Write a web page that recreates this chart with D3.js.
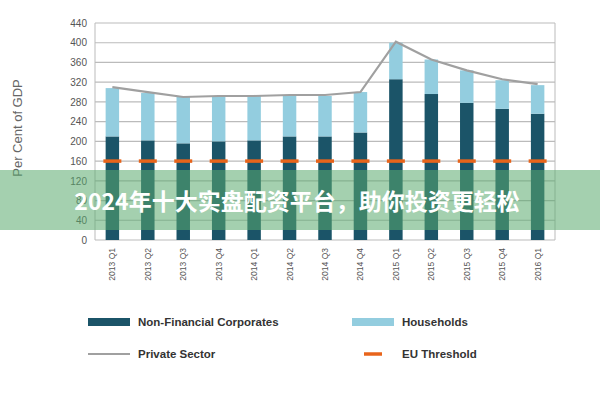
<!DOCTYPE html><html><head><meta charset="utf-8"><script src="https://cdn.jsdelivr.net/npm/d3@7"></script>
<style>body{margin:0;background:#fff}</style></head><body><svg id="c" width="600" height="400"></svg>
<script>
const categories=["2013 Q1","2013 Q2","2013 Q3","2013 Q4","2014 Q1","2014 Q2","2014 Q3","2014 Q4","2015 Q1","2015 Q2","2015 Q3","2015 Q4","2016 Q1"];
const nfc=[210,202,196,200,202,210,210,218,326,296,278,266,256];
const households=[98,96,94,92,90,84,82,82,74,70,66,58,58];
const privateSector=[310,300,290,292,292,294,294,300,402,366,344,326,316];
const euThreshold=160;
const yTicks=[0,40,80,120,160,200,240,280,320,360,400,440];
const svg=d3.select("#c"),F="Liberation Sans, Arial, sans-serif";
const x=d3.scaleBand().domain(categories).range([95,555]).paddingInner(0.62).paddingOuter(0.3);
const y=d3.scaleLinear().domain([0,440]).range([240,23]);
svg.append("g").selectAll("line").data(yTicks).join("line").attr("x1",95).attr("x2",555)
 .attr("y1",d=>y(d)).attr("y2",d=>y(d)).attr("stroke","#bbb").attr("stroke-width",1.2);
svg.append("line").attr("x1",555).attr("x2",555).attr("y1",23).attr("y2",240).attr("stroke","#bbb");
svg.append("line").attr("x1",95).attr("x2",95).attr("y1",23).attr("y2",240).attr("stroke","#bbb");
const ya=svg.append("g").attr("transform","translate(95,0)").call(d3.axisLeft(y).tickValues(yTicks).tickSize(0).tickPadding(8));
ya.select(".domain").remove();ya.selectAll("text").attr("font-family",F).attr("font-size",10).attr("fill","#555");
svg.append("text").attr("transform","translate(22,128) rotate(-90)").attr("text-anchor","middle")
 .attr("font-family",F).attr("font-size",13).attr("fill","#666").text("Per Cent of GDP");
svg.append("g").selectAll("rect").data(categories).join("rect").attr("x",d=>x(d)).attr("width",x.bandwidth())
 .attr("y",(d,i)=>y(nfc[i])).attr("height",(d,i)=>y(0)-y(nfc[i])).attr("fill","#1b5468");
svg.append("g").selectAll("rect").data(categories).join("rect").attr("x",d=>x(d)).attr("width",x.bandwidth())
 .attr("y",(d,i)=>y(nfc[i]+households[i])).attr("height",(d,i)=>y(nfc[i])-y(nfc[i]+households[i])).attr("fill","#93cddf");
svg.append("path").datum(privateSector).attr("fill","none").attr("stroke","#a0a0a0").attr("stroke-width",2.2)
 .attr("d",d3.line().x((d,i)=>x(categories[i])+x.bandwidth()/2).y(d=>y(d)));
svg.append("g").selectAll("line").data(categories).join("line")
 .attr("x1",d=>x(d)+x.bandwidth()/2-9).attr("x2",d=>x(d)+x.bandwidth()/2+9)
 .attr("y1",y(euThreshold)).attr("y2",y(euThreshold)).attr("stroke","#e8641b").attr("stroke-width",3.5);
svg.append("g").selectAll("text").data(categories).join("text")
 .attr("transform",d=>`translate(${x(d)+x.bandwidth()/2+3},248) rotate(-90)`).attr("text-anchor","end")
 .attr("font-family",F).attr("font-size",8.5).attr("fill","#555").text(d=>d);
const lg=[{t:"Non-Financial Corporates",c:"#1b5468",x:88,y:322,k:"bar"},{t:"Households",c:"#93cddf",x:352,y:322,k:"bar"},
 {t:"Private Sector",c:"#a0a0a0",x:88,y:354,k:"line"},{t:"EU Threshold",c:"#e8641b",x:352,y:354,k:"dash"}];
lg.forEach(l=>{
 if(l.k=="bar")svg.append("rect").attr("x",l.x).attr("y",l.y-4).attr("width",42).attr("height",8).attr("fill",l.c);
 else if(l.k=="line")svg.append("line").attr("x1",l.x).attr("x2",l.x+42).attr("y1",l.y).attr("y2",l.y).attr("stroke",l.c).attr("stroke-width",2);
 else svg.append("line").attr("x1",l.x+12).attr("x2",l.x+30).attr("y1",l.y).attr("y2",l.y).attr("stroke",l.c).attr("stroke-width",3.5);
 svg.append("text").attr("x",l.x+50).attr("y",l.y+4).attr("font-family",F).attr("font-size",11.5).attr("font-weight","bold").attr("fill","#333").text(l.t);
});
svg.append("rect").attr("x",0).attr("y",170).attr("width",600).attr("height",60).attr("fill","#5aaa6e").attr("opacity",0.55);
svg.append("text").attr("x",297).attr("y",210).attr("text-anchor","middle").attr("font-family","Noto Sans CJK SC")
 .attr("font-weight","bold").attr("font-size",23).attr("fill","#fff").text("2024年十大实盘配资平台，助你投资更轻松");
</script></body></html>
